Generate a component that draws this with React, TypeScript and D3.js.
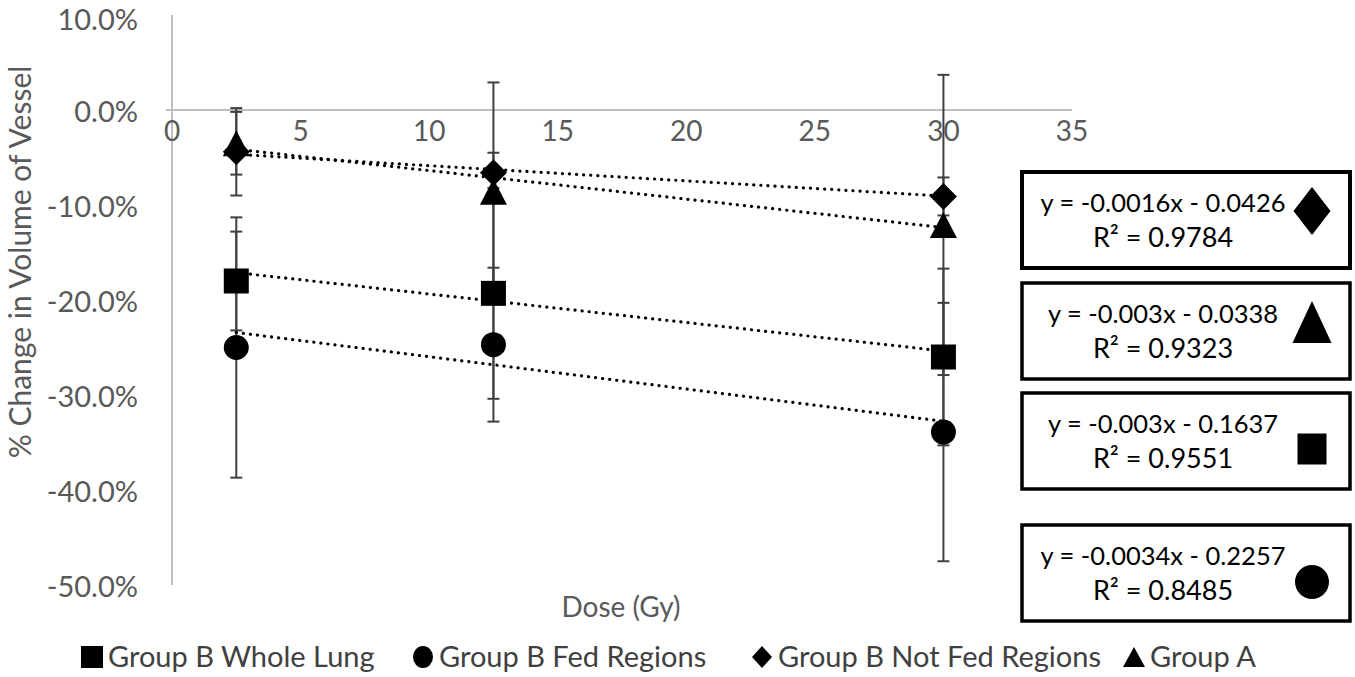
import { useEffect, useRef } from "react";
import * as d3 from "d3";

// doses (Gy) at which each group was measured
const doses = [2.5, 12.5, 30];

// % change in vessel volume, mean and error bar half-width
const wholeLung = [-18.0, -19.3, -26.0];
const wholeLungErr = [5.2, 11.1, 9.3];
const fedRegions = [-25.0, -24.7, -33.9];
const fedRegionsErr = [13.7, 8.1, 13.6];
const notFedRegions = [-4.4, -6.6, -9.1];
const notFedRegionsErr = [4.6, 2.1, 2.0];
const groupA = [-3.5, -8.6, -12.1];
const groupAErr = [3.3, 11.5, 15.8];

const seriesNames = ["Group B Whole Lung", "Group B Fed Regions", "Group B Not Fed Regions", "Group A"];
const seriesShapes = ["square", "circle", "diamond", "triangle"];

// trendline fits as shown on the chart (fractions)
const trendSlopes = [-0.003, -0.0034, -0.0016, -0.003];
const trendIntercepts = [-0.1637, -0.2257, -0.0426, -0.0338];
const trendSlopeLabels = ["-0.003", "-0.0034", "-0.0016", "-0.003"];
const trendInterceptLabels = ["0.1637", "0.2257", "0.0426", "0.0338"];
const trendR2 = ["0.9551", "0.8485", "0.9784", "0.9323"];

const yTicks = [10, 0, -10, -20, -30, -40, -50];
const xTicks = [0, 5, 10, 15, 20, 25, 30, 35];

const FONT = "Lato, 'Open Sans', sans-serif";

function shapePath(shape: string, cx: number, cy: number, w: number, h: number) {
  const hw = w / 2, hh = h / 2;
  if (shape === "square") return `M${cx - hw},${cy - hh}h${w}v${h}h${-w}Z`;
  if (shape === "diamond") return `M${cx},${cy - hh}L${cx + hw},${cy}L${cx},${cy + hh}L${cx - hw},${cy}Z`;
  if (shape === "triangle") return `M${cx},${cy - hh}L${cx + hw},${cy + hh}L${cx - hw},${cy + hh}Z`;
  return `M${cx - hw},${cy}a${hw},${hh} 0 1,0 ${w},0a${hw},${hh} 0 1,0 ${-w},0Z`;
}

export default function App() {
  const ref = useRef<SVGSVGElement | null>(null);

  useEffect(() => {
    if (!ref.current) return;
    const svg = d3.select(ref.current);
    svg.selectAll("*").remove();

    const x = d3.scaleLinear().domain([0, 35]).range([172, 1072]);
    const y = d3.scaleLinear().domain([-50, 10]).range([585, 15]);

    const series = [
      { means: wholeLung, errs: wholeLungErr },
      { means: fedRegions, errs: fedRegionsErr },
      { means: notFedRegions, errs: notFedRegionsErr },
      { means: groupA, errs: groupAErr },
    ];

    // axes
    svg.append("line")
      .attr("x1", x(0)).attr("x2", x(0)).attr("y1", y(10)).attr("y2", y(-50))
      .attr("stroke", "#bfbfbf").attr("stroke-width", 2);
    svg.append("line")
      .attr("x1", x(0)).attr("x2", x(35)).attr("y1", y(0)).attr("y2", y(0))
      .attr("stroke", "#bfbfbf").attr("stroke-width", 2);
    svg.append("line")
      .attr("x1", x(0) - 6).attr("x2", x(0)).attr("y1", y(0)).attr("y2", y(0))
      .attr("stroke", "#bfbfbf").attr("stroke-width", 2);

    // y labels (top one nudged so it stays inside the picture)
    svg.append("g").selectAll("text").data(yTicks).join("text")
      .attr("x", 138).attr("y", (d) => Math.max(y(d) + 2, 20)).attr("dy", "0.35em")
      .attr("text-anchor", "end")
      .attr("fill", "#595959").style("font-size", "29px").style("font-family", FONT)
      .text((d) => `${d.toFixed(1)}%`);

    svg.append("g").selectAll("text").data(xTicks).join("text")
      .attr("x", (d) => x(d)).attr("y", y(0) + 21).attr("dy", "0.35em")
      .attr("text-anchor", "middle")
      .attr("fill", "#595959").style("font-size", "28px").style("font-family", FONT)
      .text((d) => String(d));

    svg.append("text")
      .attr("transform", `translate(20,262) rotate(-90)`)
      .attr("dy", "0.35em").attr("text-anchor", "middle")
      .attr("fill", "#595959").style("font-size", "30px").style("font-family", FONT)
      .text("% Change in Volume of Vessel");

    svg.append("text")
      .attr("x", 621).attr("y", 607).attr("dy", "0.35em").attr("text-anchor", "middle")
      .attr("fill", "#595959").style("font-size", "28px").style("font-family", FONT)
      .text("Dose (Gy)");

    // error bars
    const eb = svg.append("g").attr("stroke", "#404040").attr("stroke-width", 2);
    series.forEach((s) => {
      doses.forEach((d, i) => {
        const top = y(s.means[i] + s.errs[i]);
        const bot = y(s.means[i] - s.errs[i]);
        eb.append("line").attr("x1", x(d)).attr("x2", x(d)).attr("y1", top).attr("y2", bot);
        eb.append("line").attr("x1", x(d) - 6).attr("x2", x(d) + 6).attr("y1", top).attr("y2", top);
        eb.append("line").attr("x1", x(d) - 6).attr("x2", x(d) + 6).attr("y1", bot).attr("y2", bot);
      });
    });

    // trendlines
    const x0 = d3.min(doses)!;
    const x1 = d3.max(doses)!;
    trendSlopes.forEach((m, k) => {
      const b = trendIntercepts[k];
      svg.append("line")
        .attr("x1", x(x0)).attr("y1", y((m * x0 + b) * 100))
        .attr("x2", x(x1)).attr("y2", y((m * x1 + b) * 100))
        .attr("stroke", "#000").attr("stroke-width", 3.2)
        .attr("stroke-linecap", "round").attr("stroke-dasharray", "0.1 7");
    });

    // markers
    const sizes: Record<string, [number, number]> = {
      square: [25, 25], circle: [25, 25], diamond: [27, 27], triangle: [27, 26],
    };
    series.forEach((s, k) => {
      const shape = seriesShapes[k];
      const [w, h] = sizes[shape];
      svg.append("g").selectAll("path").data(doses).join("path")
        .attr("d", (d, i) => shapePath(shape, x(d), y(s.means[i]), w, h))
        .attr("fill", "#000");
    });

    // trendline label boxes
    const boxOrder = [2, 3, 0, 1];
    const boxTops = [172, 283, 393, 525];
    const markerSizes: Record<string, [number, number]> = {
      diamond: [37, 48], triangle: [39, 42], square: [29, 31], circle: [34, 34],
    };
    boxOrder.forEach((k, j) => {
      const top = boxTops[j];
      const g = svg.append("g");
      g.append("rect")
        .attr("x", 1022).attr("y", top).attr("width", 328).attr("height", 96)
        .attr("fill", "#fff").attr("stroke", "#000").attr("stroke-width", j === 0 ? 4 : 3.5);
      const slope = trendSlopeLabels[k];
      g.append("text")
        .attr("x", 1163).attr("y", top + 31).attr("dy", "0.35em").attr("text-anchor", "middle")
        .attr("fill", "#000").style("font-size", "25.5px").style("font-family", FONT)
        .text(`y = ${slope}x - ${trendInterceptLabels[k]}`);
      g.append("text")
        .attr("x", 1163).attr("y", top + 66).attr("dy", "0.35em").attr("text-anchor", "middle")
        .attr("fill", "#000").style("font-size", "27px").style("font-family", FONT)
        .text("R² = " + trendR2[k]);
      const shape = seriesShapes[k];
      const [w, h] = markerSizes[shape];
      const cy = shape === "circle" ? top + 57 : shape === "square" ? top + 56 : top + 39;
      g.append("path").attr("d", shapePath(shape, 1312, cy, w, h)).attr("fill", "#000");
    });

    // bottom legend
    const legendX = [92, 423, 762, 1134];
    const legendMarker: Record<string, [number, number]> = {
      square: [22, 22], circle: [20, 22], diamond: [20, 22], triangle: [22, 20],
    };
    seriesNames.forEach((name, k) => {
      const shape = seriesShapes[k];
      const [w, h] = legendMarker[shape];
      svg.append("path").attr("d", shapePath(shape, legendX[k], 657, w, h)).attr("fill", "#000");
      svg.append("text")
        .attr("x", legendX[k] + 16).attr("y", 657).attr("dy", "0.35em")
        .attr("fill", "#404040").style("font-size", "29px").style("font-family", FONT)
        .text(name);
    });
  }, []);

  return (
    <svg
      ref={ref}
      width={1355}
      height={677}
      style={{ position: "absolute", left: 0, top: 0, background: "#fff" }}
    />
  );
}
